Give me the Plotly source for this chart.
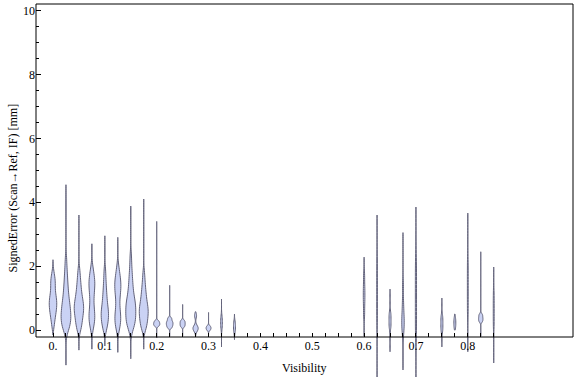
import numpy as np
import plotly.graph_objects as go

# ---------------- data ----------------
positions = [0.0, 0.025, 0.05, 0.075, 0.1, 0.125, 0.15, 0.175, 0.2, 0.225, 0.25, 0.275,
             0.3, 0.325, 0.35, 0.6, 0.625, 0.65, 0.675, 0.7, 0.75, 0.775, 0.8, 0.825, 0.85]

# observed minimum / maximum of each distribution
span_low = [-0.15, -1.1, -0.63, -0.6, -0.5, -0.7, -0.9, -0.6, -0.25, -0.2, -0.2, -0.2,
            -0.15, -0.53, -0.3, -0.2, -1.6, -0.68, -1.25, -1.6, -0.53, 0.0, -0.68, -0.2, -1.03]
span_high = [2.2, 4.55, 3.6, 2.7, 2.95, 2.9, 3.88, 4.1, 3.4, 1.4, 0.8, 0.57,
             0.55, 0.97, 0.5, 2.28, 3.6, 1.28, 3.05, 3.85, 1.0, 0.5, 3.66, 2.45, 1.97]

# representative samples of the bulk of each distribution
samples = [
    [0.1, 0.25, 0.35, 0.45, 0.52, 0.58, 0.64, 0.7, 0.75, 0.8, 0.85, 0.9, 0.95, 1.0, 1.06,
     1.13, 1.22, 1.32, 1.42, 1.5, 1.57, 1.65, 1.8],
    [-0.05, 0.03, 0.08, 0.13, 0.17, 0.21, 0.25, 0.29, 0.33, 0.37, 0.41, 0.45, 0.49, 0.53,
     0.57, 0.61, 0.65, 0.7, 0.75, 0.8, 0.85, 0.9, 0.96, 1.03, 1.1, 1.18, 1.26, 1.35, 1.45,
     1.56, 1.68, 1.82, 2.0, 2.25],
    [-0.02, 0.06, 0.13, 0.2, 0.26, 0.32, 0.38, 0.43, 0.48, 0.53, 0.57, 0.61, 0.65, 0.69,
     0.73, 0.77, 0.81, 0.85, 0.9, 0.95, 1.0, 1.06, 1.13, 1.2, 1.28, 1.37, 1.47, 1.58, 1.72, 1.9],
    [0.05, 0.14, 0.22, 0.29, 0.35, 0.41, 0.47, 0.53, 0.6, 0.68, 0.78, 0.9, 1.0, 1.1, 1.19,
     1.27, 1.34, 1.4, 1.46, 1.52, 1.58, 1.65, 1.73, 1.83, 1.97],
    [0.0, 0.08, 0.15, 0.22, 0.28, 0.34, 0.39, 0.44, 0.49, 0.54, 0.59, 0.64, 0.7, 0.77, 0.85,
     0.93, 1.02, 1.12, 1.23, 1.35, 1.5, 1.68, 1.9],
    [0.02, 0.1, 0.17, 0.24, 0.3, 0.36, 0.42, 0.48, 0.55, 0.63, 0.73, 0.85, 0.97, 1.07, 1.15,
     1.22, 1.28, 1.34, 1.4, 1.46, 1.52, 1.58, 1.65, 1.74, 1.85, 2.0],
    [-0.03, 0.05, 0.11, 0.16, 0.21, 0.25, 0.29, 0.33, 0.37, 0.41, 0.45, 0.49, 0.53, 0.57,
     0.61, 0.65, 0.69, 0.73, 0.77, 0.81, 0.85, 0.89, 0.93, 0.98, 1.04, 1.1, 1.17, 1.25, 1.33,
     1.42, 1.52, 1.63, 1.75, 1.9, 2.1, 2.35],
    [0.0, 0.07, 0.13, 0.19, 0.25, 0.3, 0.35, 0.4, 0.45, 0.5, 0.54, 0.58, 0.62, 0.66, 0.7,
     0.75, 0.8, 0.86, 0.92, 0.99, 1.06, 1.14, 1.23, 1.33, 1.45, 1.6, 1.8],
    [0.14, 0.2, 0.27],
    [0.08, 0.15, 0.21, 0.27, 0.36],
    [0.12, 0.2, 0.28],
    [0.0, 0.05, 0.1, 0.45],
    [0.02, 0.1],
    [0.12, 0.35],
    [0.0, 0.2],
    [0.5, 0.85, 1.1, 1.35, 1.7],
    [0.3, 0.9, 1.5, 2.1],
    [0.1, 0.3, 0.5],
    [-0.1, 0.1, 0.25, 0.4, 0.6, 0.9, 1.4],
    [-0.2, 0.15, 0.5, 0.85, 1.2, 1.55, 1.9, 2.25],
    [0.0, 0.2, 0.4],
    [0.12, 0.32],
    [0.6, 1.1, 1.6, 2.1],
    [0.28, 0.37, 0.47],
    [0.2, 0.65, 1.1],
]

x_tick_vals = [0.0, 0.025, 0.05, 0.075, 0.1, 0.125, 0.15, 0.175, 0.2, 0.225, 0.25, 0.275,
               0.3, 0.325, 0.35, 0.375, 0.4, 0.425, 0.45, 0.475, 0.5, 0.525, 0.55, 0.575,
               0.6, 0.625, 0.65, 0.675, 0.7, 0.725, 0.75, 0.775, 0.8, 0.825, 0.85]
x_tick_text = ["0.", "", "", "", "0.1", "", "", "", "0.2", "", "", "", "0.3", "", "", "",
               "0.4", "", "", "", "0.5", "", "", "", "0.6", "", "", "", "0.7", "", "", "",
               "0.8", "", ""]
y_major_vals = [0, 2, 4, 6, 8, 10]
y_major_text = ["0", "2", "4", "6", "8", "10"]
y_minor_vals = [0.5, 1, 1.5, 2.5, 3, 3.5, 4.5, 5, 5.5, 6.5, 7, 7.5, 8.5, 9, 9.5]
y_all_vals = [0, 0.5, 1, 1.5, 2, 2.5, 3, 3.5, 4, 4.5, 5, 5.5, 6, 6.5, 7, 7.5, 8, 8.5, 9,
              9.5, 10]

x_title = "Visibility"
y_title = "SignedError (Scan\u2192Ref, IF) [mm]"

# ---------------- styling / geometry ----------------
W, H = 576, 377
ML, MR, MT, MB = 36, 3, 4, 0
PX_PER_X = 518.5
X0_PX = 53.0
PX_PER_Y = 31.93
Y0_PX = 330.0
FRAME_BOTTOM_PX = 337.0

XMIN = (ML - X0_PX) / PX_PER_X
XMAX = (W - MR - X0_PX) / PX_PER_X
YMAX = (Y0_PX - MT) / PX_PER_Y
YMIN = (Y0_PX - (H - MB)) / PX_PER_Y
PLOT_H = H - MT - MB
PLOT_W = W - ML - MR
XAXIS_POS = (H - MB - FRAME_BOTTOM_PX) / PLOT_H

BW_FACTOR = 0.65
BW_MIN = 0.045
BW_SPACING = 0.55
MAX_FULL_WIDTH = 10.0 / PX_PER_X   # widest violin, in data units

FILL = "#cad2f4"
EDGE = "#62627a"
FONT = "Liberation Serif"


def bandwidth(vals):
    v = np.asarray(vals, float)
    n = len(v)
    sd = v.std(ddof=1) if n > 1 else 0.0
    q1, q3 = np.percentile(v, [25, 75])
    iqr = q3 - q1
    a = min(sd, iqr / 1.349) if iqr > 0 else sd
    spacing = (v.max() - v.min()) / (n - 1) if n > 1 else 0.0
    return max(BW_MIN, BW_FACTOR * a * n ** -0.2, BW_SPACING * spacing)


def peak_count_density(vals, h, lo, hi):
    v = np.asarray(vals, float)
    grid = np.linspace(lo, hi, 3000)
    d = np.exp(-0.5 * ((grid[:, None] - v[None, :]) / h) ** 2).sum(axis=1)
    d = d / (len(v) * h * np.sqrt(2 * np.pi))
    return len(v) * d.max()


bws = [bandwidth(s) for s in samples]
peaks = [peak_count_density(s, h, lo, hi) for s, h, lo, hi in zip(samples, bws, span_low, span_high)]
pmax = max(peaks)

fig = go.Figure()
for pos, s, h, lo, hi, pk in zip(positions, samples, bws, span_low, span_high, peaks):
    fig.add_trace(go.Violin(
        x=[pos] * len(s), y=s,
        bandwidth=h, spanmode="manual", span=[lo, hi],
        width=MAX_FULL_WIDTH * pk / pmax,
        points=False, box_visible=False, meanline_visible=False,
        fillcolor=FILL, line=dict(color=EDGE, width=1),
        hoverinfo="skip", showlegend=False,
    ))

fig.update_layout(
    width=W, height=H,
    margin=dict(l=ML, r=MR, t=MT, b=MB, pad=0, autoexpand=False),
    paper_bgcolor="white", plot_bgcolor="white",
    showlegend=False, violinmode="overlay",
    font=dict(family=FONT, size=12, color="black"),
    xaxis=dict(range=[XMIN, XMAX], anchor="free", position=XAXIS_POS, automargin=False,
               tickmode="array", tickvals=x_tick_vals, ticktext=x_tick_text,
               ticks="inside", ticklen=4, tickwidth=1, tickcolor="black",
               showgrid=False, zeroline=False, showline=False,
               tickfont=dict(family=FONT, size=12, color="black")),
    xaxis2=dict(range=[XMIN, XMAX], overlaying="x", side="top", anchor="y", automargin=False,
                tickmode="array", tickvals=x_tick_vals, ticks="inside", ticklen=4,
                tickwidth=1, tickcolor="black", showticklabels=False,
                showgrid=False, zeroline=False, showline=False),
    yaxis=dict(range=[YMIN, YMAX], automargin=False, tickmode="array", tickvals=y_major_vals,
               ticktext=y_major_text, ticks="inside", ticklen=4.5, tickwidth=1,
               tickcolor="black",
               minor=dict(tickmode="array", tickvals=y_minor_vals, ticks="inside",
                          ticklen=3, tickwidth=1, tickcolor="black", showgrid=False),
               showgrid=False, zeroline=False, showline=False,
               tickfont=dict(family=FONT, size=12, color="black")),
    yaxis2=dict(range=[YMIN, YMAX], overlaying="y", side="right", anchor="x", automargin=False,
                tickmode="array", tickvals=y_all_vals, ticks="inside", ticklen=3,
                tickwidth=1, tickcolor="black", showticklabels=False,
                showgrid=False, zeroline=False, showline=False),
    shapes=[dict(type="rect", xref="paper", yref="paper", x0=0, x1=1,
                 y0=XAXIS_POS, y1=1, line=dict(color="black", width=1),
                 fillcolor="rgba(0,0,0,0)", layer="above")],
    annotations=[
        dict(text=x_title, xref="paper", yref="paper", x=0.5,
             y=(H - MB - 368) / PLOT_H, xanchor="center", yanchor="middle",
             showarrow=False, font=dict(family=FONT, size=12, color="black")),
        dict(text=y_title, xref="paper", yref="paper", x=(12.5 - ML) / PLOT_W,
             y=(H - MB - 188) / PLOT_H, xanchor="center", yanchor="middle",
             textangle=-90, showarrow=False,
             font=dict(family=FONT, size=12, color="black")),
    ],
)

fig.write_html(
    "out.html",
    config={"displayModeBar": False, "staticPlot": True},
    post_script="document.body.style.margin='0';document.body.style.padding='0';"
                "document.body.style.overflow='hidden';",
)
